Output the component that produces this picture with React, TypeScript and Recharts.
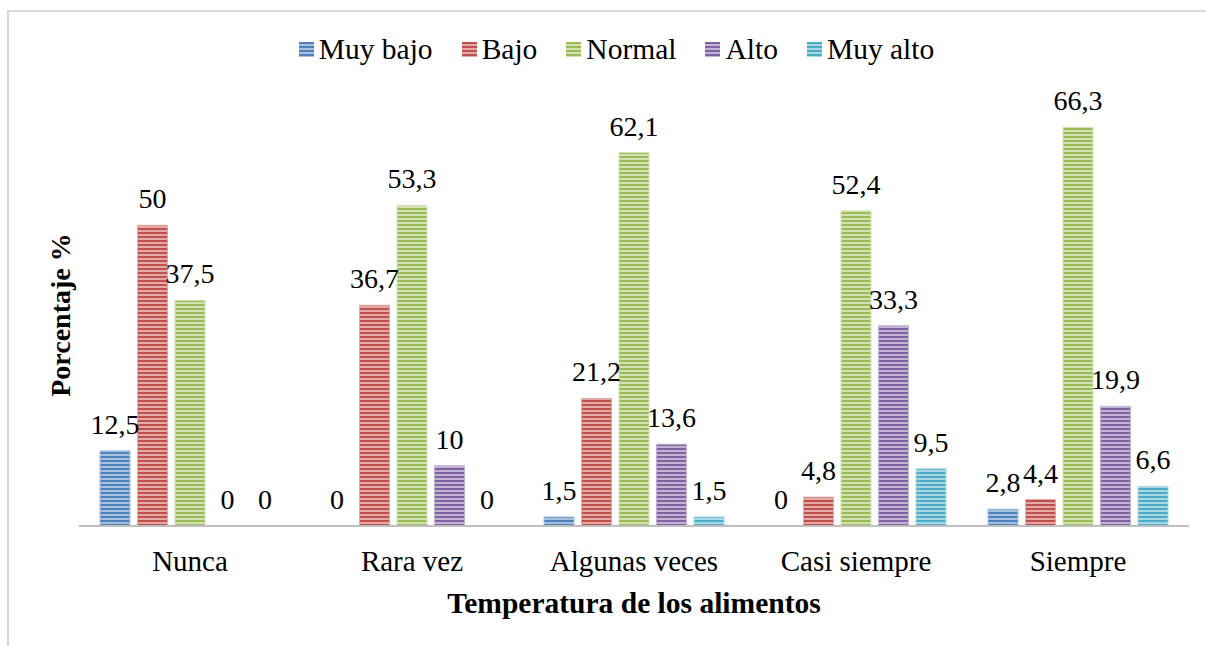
import { BarChart, Bar, XAxis, YAxis, Legend, LabelList, Cell } from "recharts";

const categories = ["Nunca", "Rara vez", "Algunas veces", "Casi siempre", "Siempre"];
const muyBajo = [12.5, 0, 1.5, 0, 2.8];
const bajo = [50, 36.7, 21.2, 4.8, 4.4];
const normal = [37.5, 53.3, 62.1, 52.4, 66.3];
const alto = [0, 10, 13.6, 33.3, 19.9];
const muyAlto = [0, 0, 1.5, 9.5, 6.6];

const series = [
  { key: "muyBajo", name: "Muy bajo", color: "#4F81BD", light: "#A7C0DE", values: muyBajo },
  { key: "bajo", name: "Bajo", color: "#C0504D", light: "#E3A9A7", values: bajo },
  { key: "normal", name: "Normal", color: "#9BBB59", light: "#D2E2B2", values: normal },
  { key: "alto", name: "Alto", color: "#8064A2", light: "#C2B3D4", values: alto },
  { key: "muyAlto", name: "Muy alto", color: "#4BACC6", light: "#A9D8E5", values: muyAlto },
];

const data = categories.map((c, i) => ({
  name: c,
  muyBajo: muyBajo[i],
  bajo: bajo[i],
  normal: normal[i],
  alto: alto[i],
  muyAlto: muyAlto[i],
}));

const FONT = "'Liberation Serif', 'Times New Roman', serif";

const fmt = (v: any) => String(v).replace(".", ",");

function LegendContent() {
  return (
    <div
      style={{
        display: "flex",
        justifyContent: "center",
        paddingLeft: 27,
        fontFamily: FONT,
        fontSize: 29.5,
        color: "#000",
        lineHeight: "32px",
      }}
    >
      {series.map((s, i) => (
        <div key={s.key} style={{ display: "flex", alignItems: "center", marginRight: i < series.length - 1 ? 29 : 0 }}>
          <svg width={15} height={15} style={{ marginRight: 5 }}>
            <rect x={0} y={0} width={15} height={15} fill={`url(#pat-${s.key})`} />
          </svg>
          <span>{s.name}</span>
        </div>
      ))}
    </div>
  );
}

export default function App() {
  return (
    <div style={{ position: "absolute", left: 0, top: 0, width: 1206, height: 646, background: "#fff", overflow: "hidden" }}>
      <div
        style={{
          position: "absolute",
          left: 7,
          top: 10,
          width: 1210,
          height: 660,
          borderTop: "2px solid #D9D9D9",
          borderLeft: "2px solid #D9D9D9",
        }}
      />
      <BarChart
        width={1206}
        height={646}
        data={data}
        margin={{ top: 105, right: 17, left: 0, bottom: 0 }}
        barSize={30}
        barGap={7.5}
        style={{ position: "absolute", left: 0, top: 0 }}
      >
        <defs>
          {series.map((s) => (
            <pattern key={s.key} id={`pat-${s.key}`} patternUnits="userSpaceOnUse" width={4} height={4}>
              <rect x={0} y={0} width={4} height={4} fill={s.color} />
              <rect x={0} y={2} width={4} height={2} fill={s.light} />
            </pattern>
          ))}
        </defs>
        <XAxis
          dataKey="name"
          height={120}
          tickLine={false}
          axisLine={{ stroke: "#BFBFBF", strokeWidth: 2 }}
          tick={{ fontSize: 29, fill: "#000", fontFamily: FONT }}
          tickMargin={18}
          label={{
            value: "Temperatura de los alimentos",
            position: "insideTop",
            offset: 66,
            style: { fontSize: 29.5, fontWeight: "bold", fill: "#000", fontFamily: FONT },
          }}
        />
        <YAxis
          width={79}
          domain={[0, 70]}
          allowDataOverflow
          axisLine={false}
          tickLine={false}
          tick={false}
          label={{
            content: () => (
              <text
                x={70}
                y={315}
                transform="rotate(-90 70 315)"
                textAnchor="middle"
                style={{ fontSize: 28, fontWeight: "bold", fill: "#000", fontFamily: FONT }}
              >
                Porcentaje %
              </text>
            ),
          }}
        />
        <Legend verticalAlign="middle" wrapperStyle={{ top: 33, left: 0, width: 1206 }} content={() => <LegendContent />} />
        {series.map((s) => (
          <Bar
            key={s.key}
            dataKey={s.key}
            name={s.name}
            fill={`url(#pat-${s.key})`}
            stroke={s.light}
            strokeWidth={1}
            minPointSize={0.01}
            isAnimationActive={false}
          >
            {s.values.map((v, i) => (
              <Cell key={i} stroke={v === 0 ? "none" : s.light} fill={v === 0 ? "none" : `url(#pat-${s.key})`} />
            ))}
            <LabelList
              dataKey={s.key}
              position="top"
              offset={17}
              formatter={fmt}
              style={{ fontSize: 28, fill: "#000", fontFamily: FONT }}
            />
          </Bar>
        ))}
      </BarChart>
    </div>
  );
}
